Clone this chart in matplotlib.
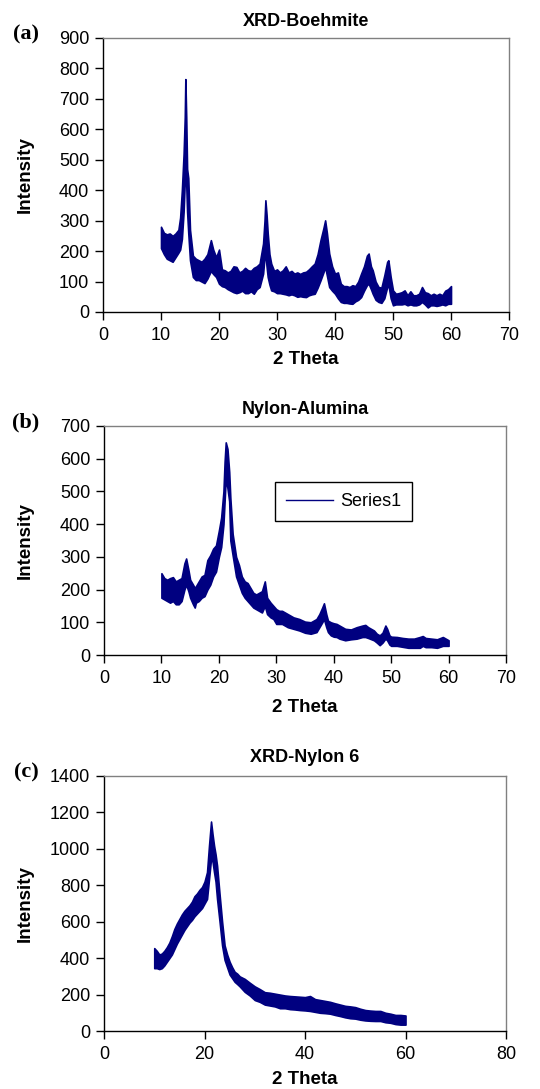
import matplotlib
matplotlib.use("Agg")
import matplotlib.pyplot as plt
from matplotlib.lines import Line2D

plt.rcParams['font.family'] = ['Liberation Sans', 'DejaVu Sans']

navy = "#000080"

# ---- (a) XRD-Boehmite : 2 theta, lower / upper edge of the noisy trace
theta_a = [10.0, 10.5, 11.0, 11.5, 12.0, 12.5, 13.0, 13.3, 13.6, 13.9, 14.1, 14.2, 14.35,
           14.5, 14.7, 15.0, 15.5, 16.0, 16.5, 17.0, 17.5, 18.0, 18.6, 19.0, 19.5, 20.0,
           20.5, 21.0, 21.5, 22.0, 22.5, 23.0, 23.5, 24.0, 24.5, 25.0, 25.5, 26.0, 26.5,
           27.0, 27.6, 27.85, 28.0, 28.2, 28.4, 28.7, 29.0, 29.5, 30.0, 30.5, 31.0, 31.5,
           32.0, 32.5, 33.0, 33.5, 34.0, 34.5, 35.0, 35.5, 36.0, 36.5, 37.0, 37.5, 38.0,
           38.3, 38.6, 39.0, 39.5, 40.0, 40.5, 41.0, 41.5, 42.0, 42.5, 43.0, 43.5, 44.0,
           44.5, 45.0, 45.5, 45.8, 46.2, 46.5, 47.0, 47.5, 48.0, 48.5, 49.0, 49.2, 49.6,
           50.0, 50.5, 51.0, 51.5, 52.0, 52.5, 53.0, 53.5, 54.0, 54.5, 55.0, 55.5, 56.0,
           56.5, 57.0, 57.5, 58.0, 58.5, 59.0, 59.5, 60.0]
low_a = [210, 190, 175, 170, 165, 180, 195, 205, 240, 330, 430, 500, 420,
         330, 260, 170, 115, 105, 105, 100, 95, 110, 135, 125, 115, 93,
         85, 82, 75, 70, 65, 62, 65, 70, 62, 62, 68, 60, 75,
         82, 126, 180, 192, 150, 115, 90, 71, 68, 62, 62, 60, 58,
         55, 58, 55, 50, 52, 50, 49, 55, 58, 60, 80, 104, 130,
         148, 120, 82, 70, 60, 45, 33, 30, 30, 28, 27, 35, 40,
         49, 70, 88, 93, 75, 60, 40, 33, 30, 45, 82, 90, 45,
         22, 25, 25, 25, 27, 22, 25, 22, 22, 25, 33, 25, 15,
         22, 22, 20, 22, 25, 22, 27, 27]
high_a = [280, 260, 255, 258, 250, 258, 270, 310, 400, 520, 640, 765, 640,
          470, 440, 270, 185, 175, 170, 165, 175, 190, 236, 205, 180, 205,
          140, 137, 130, 135, 150, 148, 130, 135, 145, 137, 135, 145, 150,
          159, 225, 300, 367, 320, 258, 190, 159, 135, 140, 130, 137, 150,
          130, 135, 126, 130, 125, 130, 132, 140, 150, 159, 190, 236, 275,
          301, 260, 192, 150, 126, 130, 93, 85, 85, 82, 88, 85, 100,
          126, 150, 185, 192, 150, 137, 100, 82, 80, 120, 165, 170, 115,
          71, 60, 62, 65, 71, 55, 68, 55, 55, 60, 82, 65, 62,
          55, 60, 55, 60, 55, 70, 75, 85]

# ---- (b) Nylon-Alumina
theta_b = [10.0, 10.5, 11.0, 11.5, 12.0, 12.5, 13.0, 13.5, 14.0, 14.3, 14.7, 15.0, 15.5,
           15.8, 16.0, 16.5, 17.0, 17.5, 18.0, 18.5, 19.0, 19.5, 20.0, 20.4, 20.8, 21.0,
           21.2, 21.5, 21.8, 22.0, 22.4, 23.0, 23.5, 24.0, 24.5, 25.0, 25.5, 26.0, 26.5,
           27.0, 27.5, 28.0, 28.4, 29.0, 29.5, 30.0, 30.5, 31.0, 32.0, 33.0, 34.0, 35.0,
           36.0, 37.0, 37.5, 38.0, 38.3, 38.7, 39.0, 39.5, 40.0, 40.5, 41.0, 42.0, 43.0,
           44.0, 45.0, 45.5, 46.0, 47.0, 47.5, 48.0, 48.5, 49.0, 49.3, 49.7, 50.0, 51.0,
           52.0, 53.0, 54.0, 55.0, 55.5, 56.0, 57.0, 58.0, 59.0, 60.0]
low_b = [175, 170, 165, 160, 165, 155, 155, 165, 200, 215, 195, 175, 155,
         145, 160, 165, 175, 180, 200, 215, 240, 255, 300, 330, 400, 470,
         540, 510, 470, 350, 305, 240, 215, 190, 175, 165, 155, 145, 140,
         135, 130, 150, 125, 115, 110, 95, 95, 95, 85, 80, 75, 68,
         65, 70, 85, 100, 110, 85, 70, 60, 56, 55, 50, 45, 48,
         50, 55, 55, 52, 45, 38, 30, 38, 50, 45, 32, 28, 28,
         25, 22, 22, 22, 28, 24, 24, 22, 28, 28]
high_b = [250, 235, 230, 235, 238, 225, 230, 235, 280, 295, 260, 230, 215,
          205, 210, 225, 240, 245, 290, 305, 325, 335, 380, 420, 500, 590,
          650, 630, 560, 480, 370, 300, 275, 240, 225, 220, 205, 190, 185,
          190, 195, 225, 175, 160, 150, 140, 135, 135, 125, 115, 110, 102,
          100, 110, 125, 145, 158, 125, 105, 100, 97, 95, 90, 80, 78,
          85, 90, 92, 85, 75, 65, 60, 68, 90, 80, 60, 56, 55,
          52, 50, 50, 55, 58, 52, 50, 48, 55, 45]

# ---- (c) XRD-Nylon 6
theta_c = [10.0, 10.5, 11.0, 11.5, 12.0, 12.5, 13.0, 13.5, 14.0, 14.5, 15.0, 15.5, 16.0,
           16.5, 17.0, 17.5, 18.0, 18.5, 19.0, 19.5, 20.0, 20.5, 20.9, 21.3, 21.6, 21.9,
           22.2, 22.5, 23.0, 23.5, 24.0, 24.5, 25.0, 25.5, 26.0, 26.5, 27.0, 28.0, 29.0,
           30.0, 31.0, 32.0, 33.0, 34.0, 35.0, 36.0, 37.0, 38.0, 39.0, 40.0, 41.0, 42.0,
           43.0, 44.0, 45.0, 46.0, 47.0, 48.0, 49.0, 50.0, 51.0, 52.0, 53.0, 54.0, 55.0,
           56.0, 57.0, 58.0, 59.0, 60.0]
low_c = [345, 345, 340, 345, 360, 380, 400, 420, 450, 480, 505, 530, 555,
         575, 595, 610, 630, 645, 660, 675, 700, 725, 835, 945, 930, 872,
         820, 725, 600, 470, 390, 350, 310, 290, 270, 258, 245, 215, 195,
         170, 160, 145, 140, 135, 125, 125, 120, 118, 115, 113, 110, 105,
         100, 98, 95, 88, 82, 75, 70, 68, 62, 58, 56, 55, 55,
         48, 45, 38, 35, 35]
high_c = [455, 440, 420, 425, 440, 460, 485, 520, 560, 590, 615, 640, 660,
          675, 690, 710, 740, 755, 775, 790, 820, 872, 1018, 1150, 1080, 1018,
          970, 908, 750, 600, 470, 420, 380, 350, 325, 315, 300, 286, 265,
          245, 230, 213, 210, 205, 200, 195, 192, 190, 188, 186, 192, 175,
          170, 165, 160, 152, 145, 138, 135, 131, 122, 115, 112, 110, 110,
          100, 95, 88, 88, 85]

panels = [
    ("(a)", "XRD-Boehmite", theta_a, low_a, high_a, (103, 38, 509, 312), 70, 10, 900, 100, 21, 359),
    ("(b)", "Nylon-Alumina", theta_b, low_b, high_b, (104, 426, 506, 655), 70, 10, 700, 100, 409, 707),
    ("(c)", "XRD-Nylon 6", theta_c, low_c, high_c, (104, 776, 506, 1031), 80, 20, 1400, 200, 758, 1080),
]

W, H = 540, 1089
fig = plt.figure(figsize=(W / 100, H / 100), dpi=100)

for tag, title, tt, lo, hi, box, xmax, xstep, ymax, ystep, ty, xly in panels:
    l, t, r, b = box
    ax = fig.add_axes([l / W, 1 - b / H, (r - l) / W, (b - t) / H])
    ax.fill_between(tt, lo, hi, color=navy, edgecolor=navy, linewidth=1.2)
    ax.set_xlim(0, xmax)
    ax.set_ylim(0, ymax)
    ax.set_xticks(range(0, xmax + 1, xstep))
    ax.set_yticks(range(0, ymax + 1, ystep))
    ax.tick_params(direction="out", length=6, width=1, labelsize=13, colors="black")
    ax.tick_params(axis="y", pad=4)
    ax.tick_params(axis="x", pad=5)
    for side in ["top", "right"]:
        ax.spines[side].set_color("#808080")
    for side in ["left", "bottom"]:
        ax.spines[side].set_color("black")
    for s in ax.spines.values():
        s.set_linewidth(1)

    cx = (l + r) / 2 / W
    fig.text(cx, 1 - ty / H, title, ha="center", va="center", fontsize=13, fontweight="bold")
    fig.text(cx, 1 - xly / H, "2 Theta", ha="center", va="center", fontsize=13.5, fontweight="bold")
    fig.text(25 / W, 1 - (t + b) / 2 / H, "Intensity", ha="center", va="center",
             rotation=90, fontsize=13.5, fontweight="bold")
    fig.text(26 / W, 1 - (t - 4) / H, tag, ha="center", va="center", fontsize=16,
             fontweight="bold", family=["Liberation Serif", "DejaVu Serif"])

    if tag == "(b)":
        handle = Line2D([], [], color=navy, lw=1)
        leg = ax.legend([handle], ["Series1"], loc="upper left", bbox_to_anchor=(0.425, 0.755),
                        borderaxespad=0, frameon=True, fancybox=False, framealpha=1,
                        edgecolor="black", fontsize=13, handlelength=2.6, borderpad=0.6,
                        handletextpad=0.4)
        leg.get_frame().set_linewidth(1)

fig.savefig("out.png", dpi=100)
